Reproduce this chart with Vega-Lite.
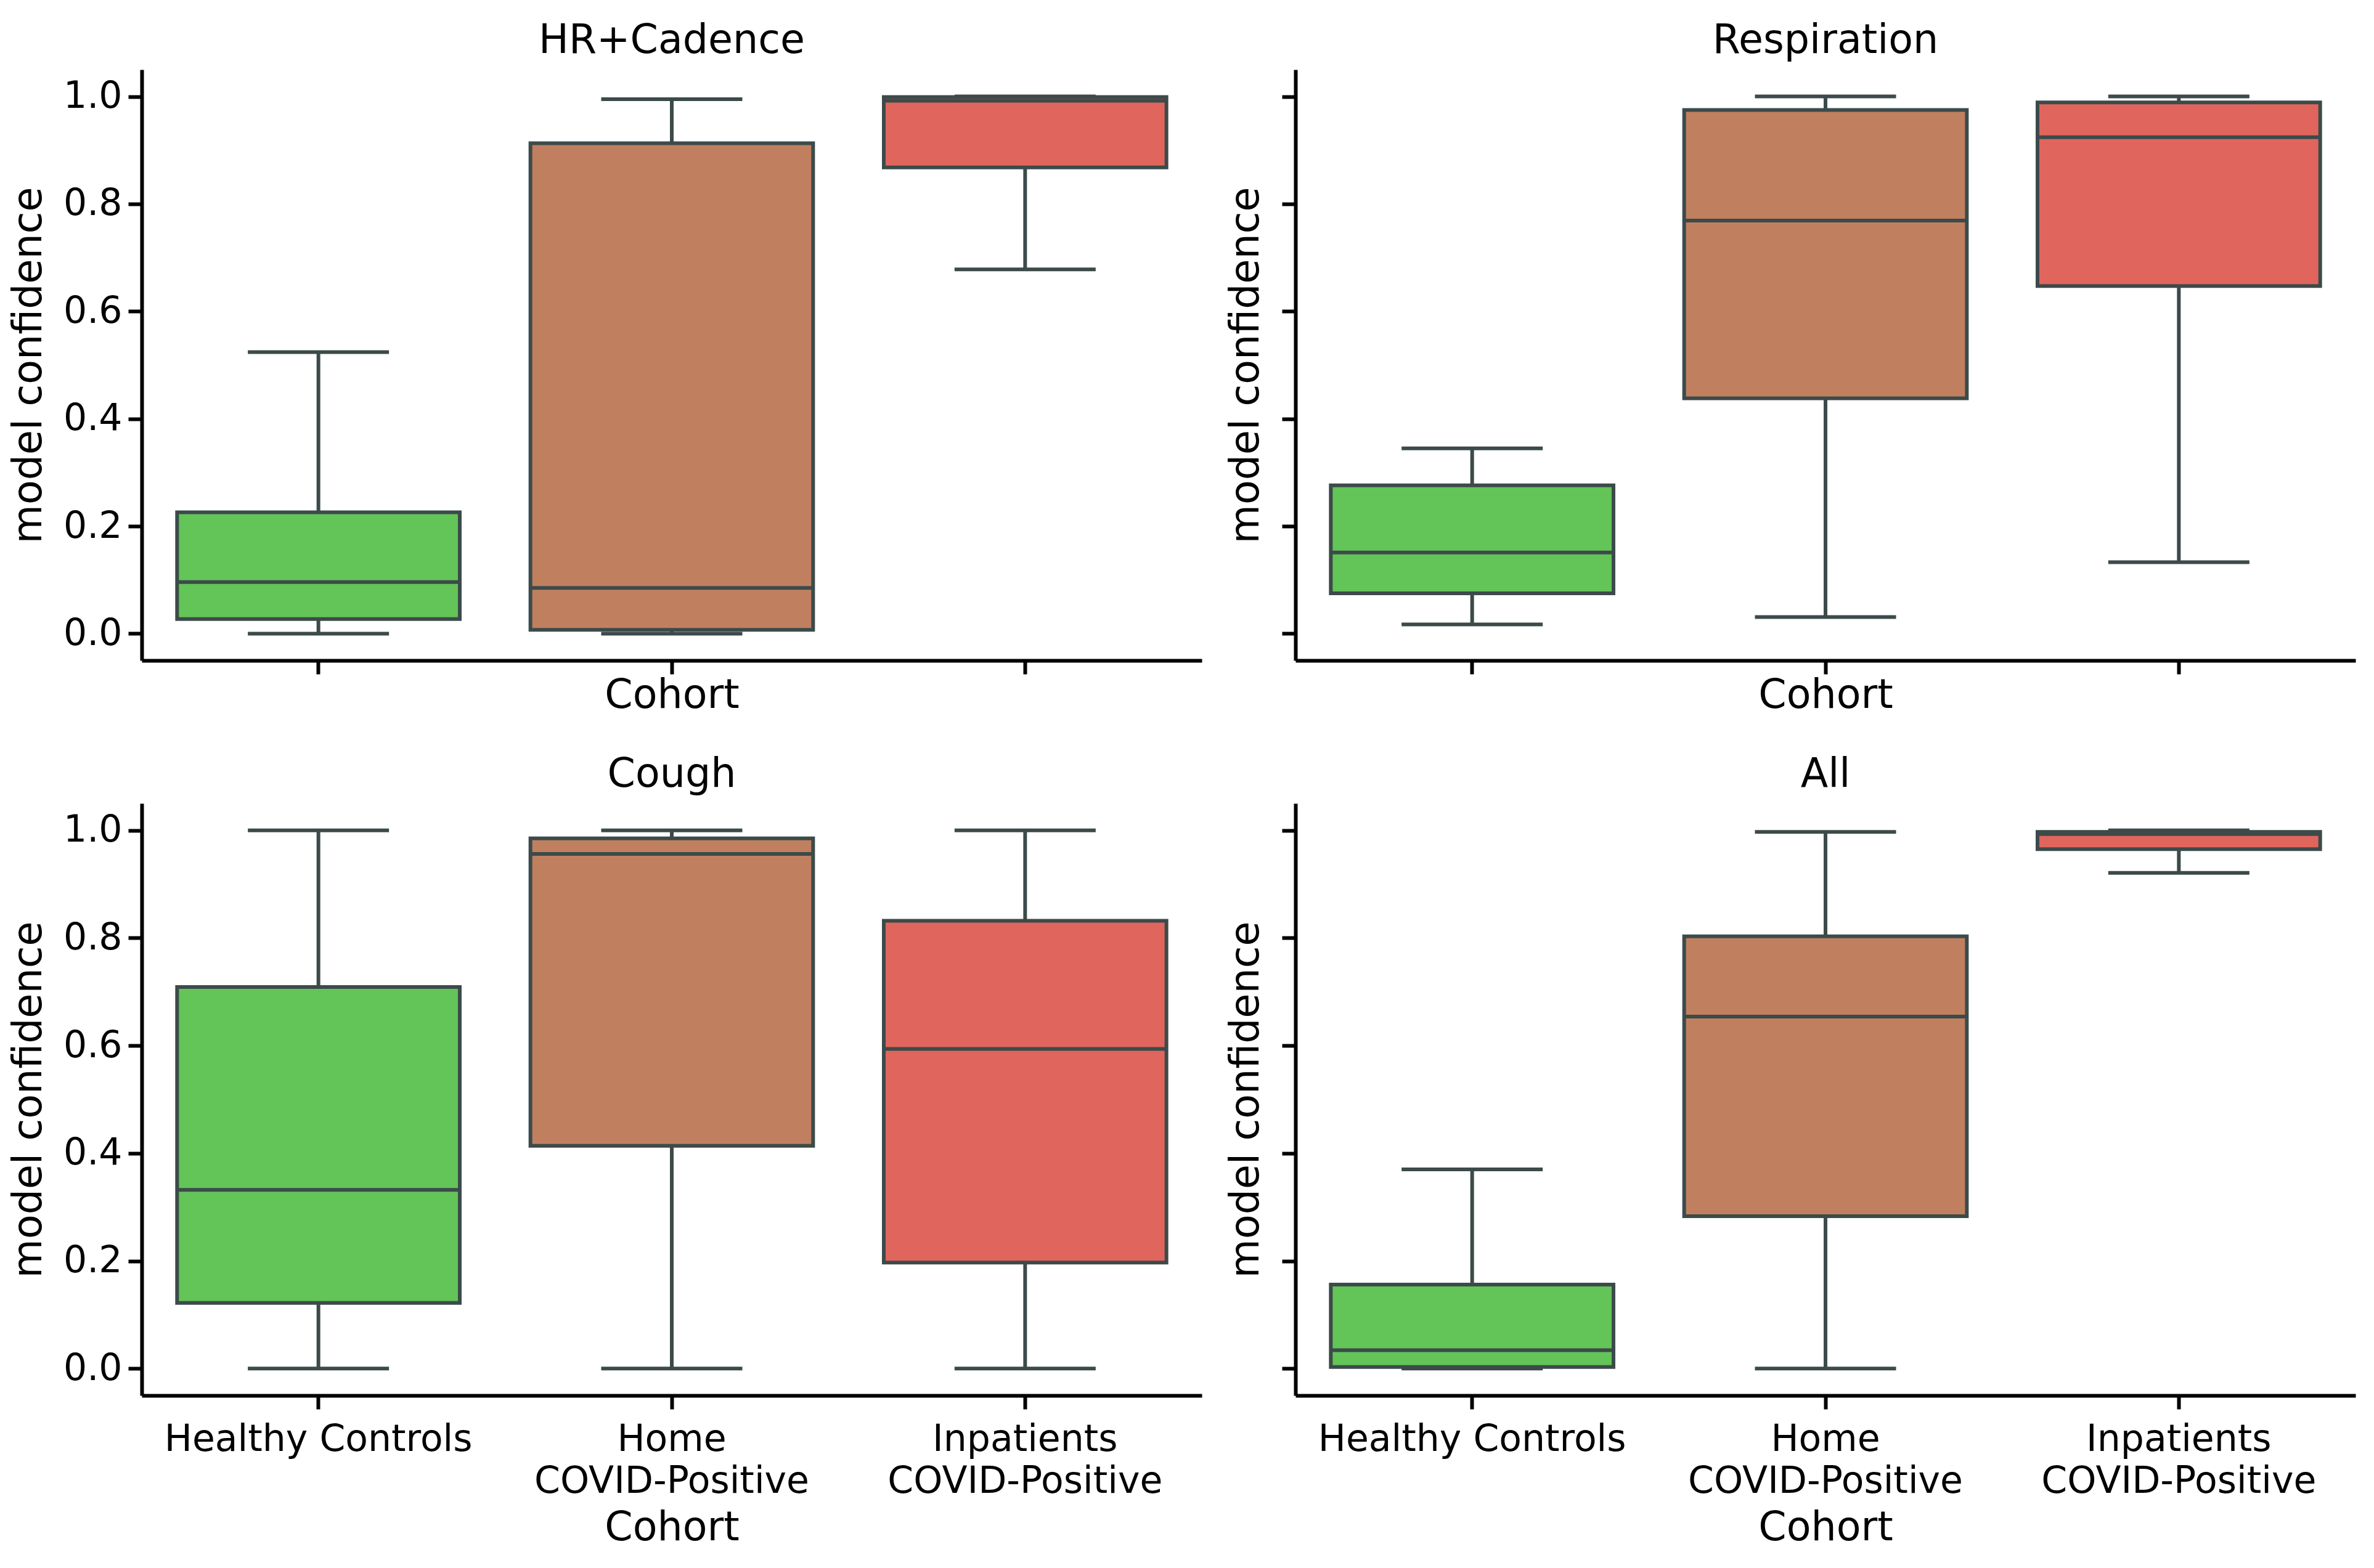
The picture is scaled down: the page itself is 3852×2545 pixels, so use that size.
{
  "$schema": "https://vega.github.io/schema/vega-lite/v6.json",
  "autosize": {"type": "pad"},
  "padding": {"left": 14, "top": 34, "right": 5, "bottom": 5},
  "background": "white",
  "bounds": "flush",
  "columns": 2,
  "spacing": {"row": 232, "column": 152},
  "config": {
    "font": "DejaVu Sans",
    "view": {"stroke": null},
    "axis": {
      "domainColor": "black", "domainWidth": 6, "tickColor": "black", "tickWidth": 6, "tickSize": 22,
      "grid": false, "labelFont": "DejaVu Sans", "labelFontSize": 60, "labelColor": "black", "labelLimit": 2000,
      "titleFont": "DejaVu Sans", "titleFontSize": 65, "titleFontWeight": "normal", "titleColor": "black"
    },
    "title": {"font": "DejaVu Sans", "fontSize": 65, "fontWeight": "normal", "color": "black", "offset": 13}
  },
  "datasets": {
    "boxes": [
      {"panel": "HR+Cadence", "cohort": "Healthy Controls", "lower": 0.0, "q1": 0.027, "median": 0.096, "q3": 0.226, "upper": 0.524},
      {"panel": "HR+Cadence", "cohort": "Home COVID-Positive", "lower": 0.0, "q1": 0.007, "median": 0.085, "q3": 0.913, "upper": 0.995},
      {"panel": "HR+Cadence", "cohort": "Inpatients COVID-Positive", "lower": 0.678, "q1": 0.868, "median": 0.992, "q3": 0.999, "upper": 1.0},
      {"panel": "Respiration", "cohort": "Healthy Controls", "lower": 0.017, "q1": 0.075, "median": 0.151, "q3": 0.276, "upper": 0.345},
      {"panel": "Respiration", "cohort": "Home COVID-Positive", "lower": 0.031, "q1": 0.438, "median": 0.769, "q3": 0.975, "upper": 1.0},
      {"panel": "Respiration", "cohort": "Inpatients COVID-Positive", "lower": 0.133, "q1": 0.647, "median": 0.924, "q3": 0.989, "upper": 1.0},
      {"panel": "Cough", "cohort": "Healthy Controls", "lower": 0.0, "q1": 0.122, "median": 0.332, "q3": 0.709, "upper": 1.0},
      {"panel": "Cough", "cohort": "Home COVID-Positive", "lower": 0.0, "q1": 0.414, "median": 0.956, "q3": 0.985, "upper": 1.0},
      {"panel": "Cough", "cohort": "Inpatients COVID-Positive", "lower": 0.0, "q1": 0.197, "median": 0.594, "q3": 0.832, "upper": 1.0},
      {"panel": "All", "cohort": "Healthy Controls", "lower": 0.0, "q1": 0.003, "median": 0.034, "q3": 0.156, "upper": 0.37},
      {"panel": "All", "cohort": "Home COVID-Positive", "lower": 0.0, "q1": 0.283, "median": 0.654, "q3": 0.803, "upper": 0.997},
      {"panel": "All", "cohort": "Inpatients COVID-Positive", "lower": 0.921, "q1": 0.965, "median": 0.993, "q3": 0.997, "upper": 1.0}
    ]
  },
  "concat": [
    {
      "title": "HR+Cadence",
      "width": 1720, "height": 959,
      "data": {"name": "boxes"},
      "transform": [{"filter": "datum.panel == 'HR+Cadence'"}],
      "encoding": {
        "x": {"field": "cohort", "type": "nominal", "sort": ["Healthy Controls", "Home COVID-Positive", "Inpatients COVID-Positive"],
              "scale": {"paddingInner": 0, "paddingOuter": 0},
              "axis": {"title": "Cohort", "labels": false, "titlePadding": 0}}
      },
      "layer": [
        {"mark": {"type": "rule", "color": "#3c4a4a", "strokeWidth": 6},
         "encoding": {"y": {"field": "lower", "type": "quantitative", "scale": {"domain": [-0.05, 1.05], "nice": false, "zero": false},
                            "axis": {"title": "model confidence", "values": [0, 0.2, 0.4, 0.6, 0.8, 1.0], "format": ".1f", "labelPadding": 10, "titlePadding": 22}},
                      "y2": {"field": "q1"}}},
        {"mark": {"type": "rule", "color": "#3c4a4a", "strokeWidth": 6}, "encoding": {"y": {"field": "q3", "type": "quantitative"}, "y2": {"field": "upper"}}},
        {"mark": {"type": "tick", "color": "#3c4a4a", "size": 229, "thickness": 6, "opacity": 1}, "encoding": {"y": {"field": "lower", "type": "quantitative"}}},
        {"mark": {"type": "tick", "color": "#3c4a4a", "size": 229, "thickness": 6, "opacity": 1}, "encoding": {"y": {"field": "upper", "type": "quantitative"}}},
        {"mark": {"type": "bar", "stroke": "#3c4a4a", "strokeWidth": 6, "width": {"band": 0.8}, "opacity": 1},
         "encoding": {"y": {"field": "q1", "type": "quantitative"}, "y2": {"field": "q3"},
                      "fill": {"field": "cohort", "type": "nominal", "scale": {"domain": ["Healthy Controls", "Home COVID-Positive", "Inpatients COVID-Positive"], "range": ["#63c458", "#c08060", "#e0655d"]}, "legend": null}}},
        {"mark": {"type": "tick", "color": "#3c4a4a", "size": 458, "thickness": 6, "opacity": 1}, "encoding": {"y": {"field": "median", "type": "quantitative"}}}
      ]
    },
    {
      "title": "Respiration",
      "width": 1720, "height": 959,
      "data": {"name": "boxes"},
      "transform": [{"filter": "datum.panel == 'Respiration'"}],
      "encoding": {
        "x": {"field": "cohort", "type": "nominal", "sort": ["Healthy Controls", "Home COVID-Positive", "Inpatients COVID-Positive"],
              "scale": {"paddingInner": 0, "paddingOuter": 0},
              "axis": {"title": "Cohort", "labels": false, "titlePadding": 0}}
      },
      "layer": [
        {"mark": {"type": "rule", "color": "#3c4a4a", "strokeWidth": 6},
         "encoding": {"y": {"field": "lower", "type": "quantitative", "scale": {"domain": [-0.05, 1.05], "nice": false, "zero": false},
                            "axis": {"title": "model confidence", "values": [0, 0.2, 0.4, 0.6, 0.8, 1.0], "labels": false, "titlePadding": 22}},
                      "y2": {"field": "q1"}}},
        {"mark": {"type": "rule", "color": "#3c4a4a", "strokeWidth": 6}, "encoding": {"y": {"field": "q3", "type": "quantitative"}, "y2": {"field": "upper"}}},
        {"mark": {"type": "tick", "color": "#3c4a4a", "size": 229, "thickness": 6, "opacity": 1}, "encoding": {"y": {"field": "lower", "type": "quantitative"}}},
        {"mark": {"type": "tick", "color": "#3c4a4a", "size": 229, "thickness": 6, "opacity": 1}, "encoding": {"y": {"field": "upper", "type": "quantitative"}}},
        {"mark": {"type": "bar", "stroke": "#3c4a4a", "strokeWidth": 6, "width": {"band": 0.8}, "opacity": 1},
         "encoding": {"y": {"field": "q1", "type": "quantitative"}, "y2": {"field": "q3"},
                      "fill": {"field": "cohort", "type": "nominal", "scale": {"domain": ["Healthy Controls", "Home COVID-Positive", "Inpatients COVID-Positive"], "range": ["#63c458", "#c08060", "#e0655d"]}, "legend": null}}},
        {"mark": {"type": "tick", "color": "#3c4a4a", "size": 458, "thickness": 6, "opacity": 1}, "encoding": {"y": {"field": "median", "type": "quantitative"}}}
      ]
    },
    {
      "title": "Cough",
      "width": 1720, "height": 961,
      "data": {"name": "boxes"},
      "transform": [{"filter": "datum.panel == 'Cough'"}],
      "encoding": {
        "x": {"field": "cohort", "type": "nominal", "sort": ["Healthy Controls", "Home COVID-Positive", "Inpatients COVID-Positive"],
              "scale": {"paddingInner": 0, "paddingOuter": 0},
              "axis": {"title": "Cohort", "labelAngle": 0, "labelPadding": 20, "labelLineHeight": 68, "labelBaseline": "top",
                       "labelExpr": "datum.value == 'Healthy Controls' ? datum.value : split(datum.value, ' ')", "titlePadding": 14}}
      },
      "layer": [
        {"mark": {"type": "rule", "color": "#3c4a4a", "strokeWidth": 6},
         "encoding": {"y": {"field": "lower", "type": "quantitative", "scale": {"domain": [-0.05, 1.05], "nice": false, "zero": false},
                            "axis": {"title": "model confidence", "values": [0, 0.2, 0.4, 0.6, 0.8, 1.0], "format": ".1f", "labelPadding": 10, "titlePadding": 22}},
                      "y2": {"field": "q1"}}},
        {"mark": {"type": "rule", "color": "#3c4a4a", "strokeWidth": 6}, "encoding": {"y": {"field": "q3", "type": "quantitative"}, "y2": {"field": "upper"}}},
        {"mark": {"type": "tick", "color": "#3c4a4a", "size": 229, "thickness": 6, "opacity": 1}, "encoding": {"y": {"field": "lower", "type": "quantitative"}}},
        {"mark": {"type": "tick", "color": "#3c4a4a", "size": 229, "thickness": 6, "opacity": 1}, "encoding": {"y": {"field": "upper", "type": "quantitative"}}},
        {"mark": {"type": "bar", "stroke": "#3c4a4a", "strokeWidth": 6, "width": {"band": 0.8}, "opacity": 1},
         "encoding": {"y": {"field": "q1", "type": "quantitative"}, "y2": {"field": "q3"},
                      "fill": {"field": "cohort", "type": "nominal", "scale": {"domain": ["Healthy Controls", "Home COVID-Positive", "Inpatients COVID-Positive"], "range": ["#63c458", "#c08060", "#e0655d"]}, "legend": null}}},
        {"mark": {"type": "tick", "color": "#3c4a4a", "size": 458, "thickness": 6, "opacity": 1}, "encoding": {"y": {"field": "median", "type": "quantitative"}}}
      ]
    },
    {
      "title": "All",
      "width": 1720, "height": 961,
      "data": {"name": "boxes"},
      "transform": [{"filter": "datum.panel == 'All'"}],
      "encoding": {
        "x": {"field": "cohort", "type": "nominal", "sort": ["Healthy Controls", "Home COVID-Positive", "Inpatients COVID-Positive"],
              "scale": {"paddingInner": 0, "paddingOuter": 0},
              "axis": {"title": "Cohort", "labelAngle": 0, "labelPadding": 20, "labelLineHeight": 68, "labelBaseline": "top",
                       "labelExpr": "datum.value == 'Healthy Controls' ? datum.value : split(datum.value, ' ')", "titlePadding": 14}}
      },
      "layer": [
        {"mark": {"type": "rule", "color": "#3c4a4a", "strokeWidth": 6},
         "encoding": {"y": {"field": "lower", "type": "quantitative", "scale": {"domain": [-0.05, 1.05], "nice": false, "zero": false},
                            "axis": {"title": "model confidence", "values": [0, 0.2, 0.4, 0.6, 0.8, 1.0], "labels": false, "titlePadding": 22}},
                      "y2": {"field": "q1"}}},
        {"mark": {"type": "rule", "color": "#3c4a4a", "strokeWidth": 6}, "encoding": {"y": {"field": "q3", "type": "quantitative"}, "y2": {"field": "upper"}}},
        {"mark": {"type": "tick", "color": "#3c4a4a", "size": 229, "thickness": 6, "opacity": 1}, "encoding": {"y": {"field": "lower", "type": "quantitative"}}},
        {"mark": {"type": "tick", "color": "#3c4a4a", "size": 229, "thickness": 6, "opacity": 1}, "encoding": {"y": {"field": "upper", "type": "quantitative"}}},
        {"mark": {"type": "bar", "stroke": "#3c4a4a", "strokeWidth": 6, "width": {"band": 0.8}, "opacity": 1},
         "encoding": {"y": {"field": "q1", "type": "quantitative"}, "y2": {"field": "q3"},
                      "fill": {"field": "cohort", "type": "nominal", "scale": {"domain": ["Healthy Controls", "Home COVID-Positive", "Inpatients COVID-Positive"], "range": ["#63c458", "#c08060", "#e0655d"]}, "legend": null}}},
        {"mark": {"type": "tick", "color": "#3c4a4a", "size": 458, "thickness": 6, "opacity": 1}, "encoding": {"y": {"field": "median", "type": "quantitative"}}}
      ]
    }
  ]
}
